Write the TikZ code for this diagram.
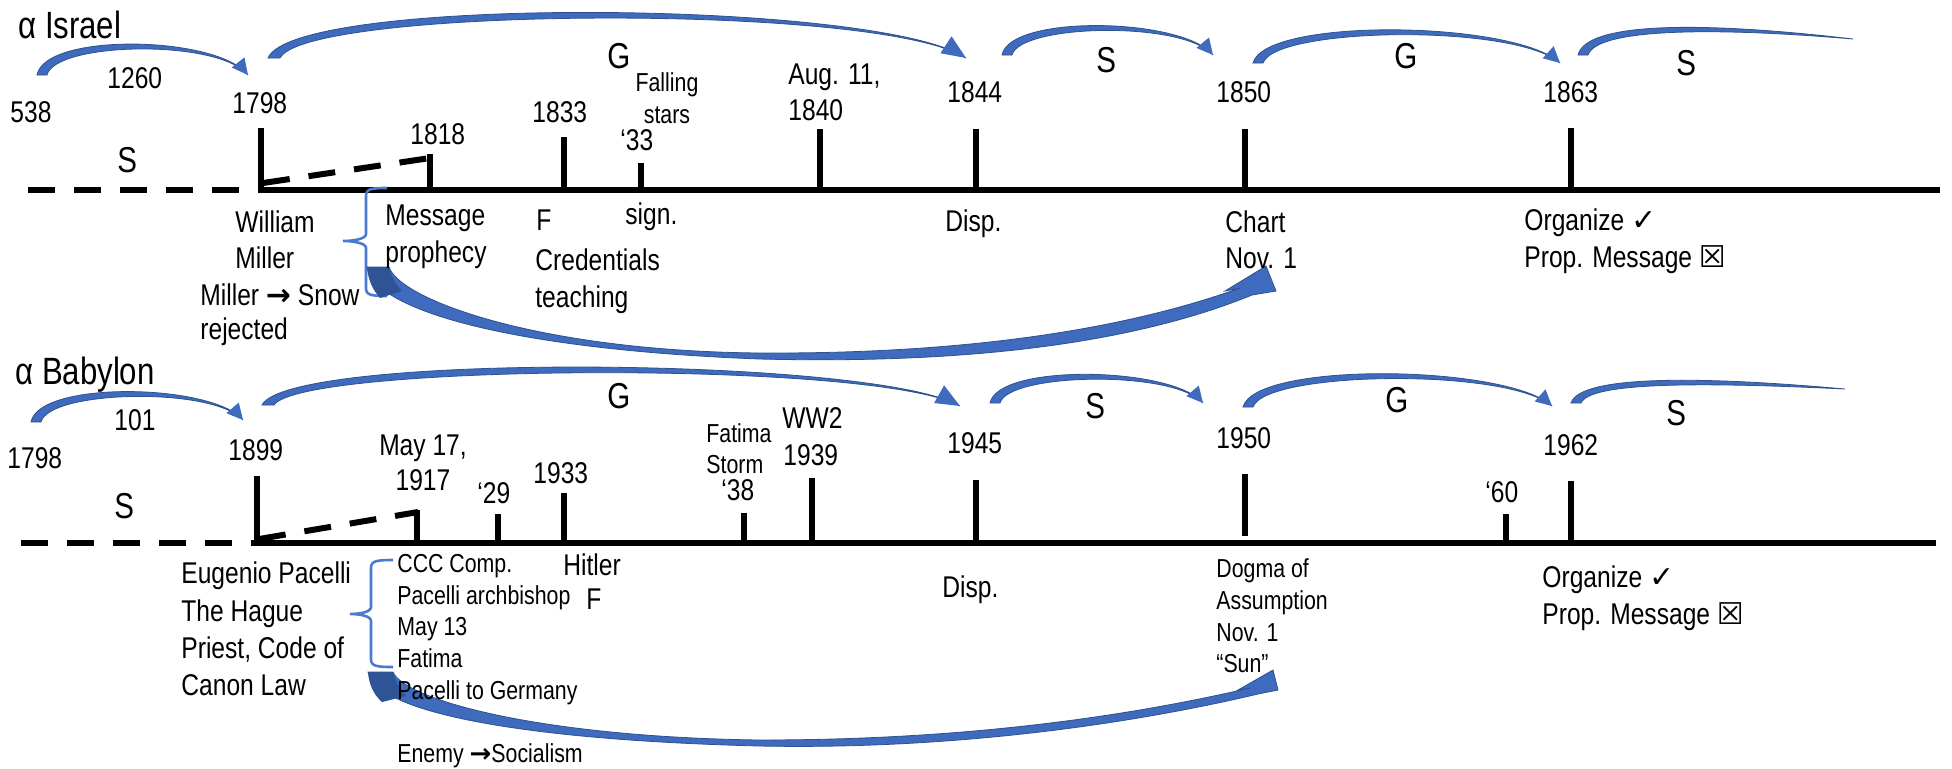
\documentclass[tikz,border=0pt]{standalone}
\usepackage{fontspec}
\setmainfont{Liberation Sans}[FakeStretch=0.82]
\newfontfamily\symfont{DejaVu Sans}
\usetikzlibrary{arrows.meta,calc}
\definecolor{arcblue}{HTML}{3F6BBE}
\definecolor{arcedge}{HTML}{2F528F}
\definecolor{bracecol}{HTML}{4A7BD0}
\definecolor{darkface}{HTML}{2E5496}
\tikzset{
 lbl/.style={anchor=base west, inner sep=0pt, font=\fontsize{15}{18}\selectfont},
 sml/.style={anchor=base west, inner sep=0pt, font=\fontsize{13}{16}\selectfont},
 ttl/.style={anchor=base west, inner sep=0pt, font=\fontsize{19}{22}\selectfont},
 big/.style={anchor=base west, inner sep=0pt, font=\fontsize{18}{21}\selectfont},
 axis/.style={line width=3pt},
 dashaxis/.style={line width=3pt, dash pattern=on 13.5pt off 9.5pt},
 tick/.style={line width=3pt},
 bracestyle/.style={draw=bracecol, line width=1.3pt},
 arcbody/.style={fill=arcblue, draw=arcedge, line width=0.4pt},
 arctip/.style={arcblue, line width=0.5pt, -{Triangle[length=8pt,width=8pt]}},
 arctipbig/.style={arcblue, line width=0.5pt, -{Triangle[length=12pt,width=10pt]}},
}
% #1 x0, #2 y0, #3 x1c, #4 yc, #5 x2c, #6 x3, #7 y3, #8 w, #9 tip (0 none,1 small,2 big)
\newcommand{\bluearc}[9]{%
 \filldraw[arcbody] ({#1-#8/2},#2) .. controls ({#3-#8/2},{#4-#8/2}) and (#5,{#4-1.5}) .. (#6,#7)
   .. controls (#5,{#4+1.5}) and ({#3+#8/2},{#4+#8/2}) .. ({#1+#8/2},#2) -- cycle;
 \ifnum#9=1 \draw[arctip] ({#6-0.12*(#6-#5)},{#7-0.12*(#7-#4)}) -- (#6,#7);\fi
 \ifnum#9=2 \draw[arctipbig] ({#6-0.12*(#6-#5)},{#7-0.12*(#7-#4)}) -- (#6,#7);\fi
}
% #1 x, #2 top, #3 mid, #4 bottom, #5 tip x, #6 hook x
\newcommand{\bluebrace}[6]{%
 \draw[bracestyle] (#6,#2) .. controls ({#1+5},#2) and (#1,{#2+1}) .. (#1,{#2+8}) -- (#1,{#3-7})
  .. controls (#1,{#3-2}) and ({#5+10},#3) .. (#5,#3)
  .. controls ({#5+10},#3) and (#1,{#3+2}) .. (#1,{#3+7}) -- (#1,{#4-8})
  .. controls (#1,{#4-1}) and ({#1+5},#4) .. (#6,#4);
}
\begin{document}
\begin{tikzpicture}[x=0.5pt,y=-0.5pt]
\useasboundingbox[fill=white] (0,0) rectangle (1952,768);

% ===== Upper timeline =====
\coordinate (uA0) at (28,190);
\coordinate (uA1) at (258,190);
\coordinate (uA2) at (1940,190);
\draw[dashaxis] (uA0) -- (uA1);
\draw[axis] (uA1) -- (uA2);
\coordinate (uD0) at (263,183);
\coordinate (uD1) at (430,158);
\draw[dashaxis] (uD0) -- (uD1);
\foreach \x/\t in {261/128, 430/154, 564/137, 641/163, 820/129, 976/129, 1245/129, 1571/128}
  \draw[tick] (\x,\t) -- (\x,192);

\bluebrace{366}{188}{241}{296}{343}{387}

% arcs upper
\bluearc{42}{75}{50}{37}{218}{248}{75}{10}{1}
\bluearc{274}{58}{300}{1}{880}{966}{58}{12}{2}
\bluearc{1007}{55}{1015}{19}{1183}{1213}{55}{10}{1}
\bluearc{1258}{63}{1270}{22}{1515}{1560}{63}{10}{1}
\filldraw[arcbody] (1578,55) .. controls (1586,22) and (1700,21) .. (1853,39)
  .. controls (1700,26) and (1596,30) .. (1588,55) -- cycle;

% big arrow upper
\filldraw[arcbody] (367,267) .. controls (375,312) and (520,350) .. (760,359)
  .. controls (960,364) and (1130,345) .. (1252,295) -- (1276,291) -- (1266,266) -- (1225,291) -- (1240,288)
  .. controls (1120,331) and (960,354) .. (760,353) .. controls (540,351) and (400,300) .. (389,267) -- cycle;
\fill[darkface] (367,267) -- (389,267) .. controls (391,276) and (395,283) .. (402,291) -- (380,298)
  .. controls (372,289) and (368,279) .. (367,267) -- cycle;

% texts upper
\node[ttl] (tIsrael) at (18,38) {α Israel};
\node[lbl] (u538) at (10,122) {538};
\node[lbl] (u1260) at (107,88) {1260};
\node[lbl] (u1798) at (232,113) {1798};
\node[big] (uS1) at (117,172) {S};
\node[lbl] (u1818) at (410,144) {1818};
\node[lbl] (u1833) at (532,122) {1833};
\node[big] (uG1) at (607,68) {G};
\node[sml, anchor=base] (uFall) at (667,91) {Falling};
\node[sml, anchor=base] (uStars) at (667,123) {stars};
\node[lbl] (u33) at (620,150) {‘33};
\node[lbl] (uAug) at (788,84) {Aug. 11,};
\node[lbl] (u1840) at (788,120) {1840};
\node[lbl] (u1844) at (947,102) {1844};
\node[big] (uS2) at (1096,72) {S};
\node[lbl] (u1850) at (1216,102) {1850};
\node[big] (uG2) at (1394,68) {G};
\node[lbl] (u1863) at (1543,102) {1863};
\node[big] (uS3) at (1676,75) {S};

\node[lbl] (uWilliam) at (235,232) {William};
\node[lbl] (uMiller) at (235,268) {Miller};
\node[lbl] (uSnow) at (200,305) {Miller {\symfont\bfseries →} Snow};
\node[lbl] (uRej) at (200,339) {rejected};
\node[lbl] (uMsg) at (385,225) {Message};
\node[lbl] (uProph) at (385,262) {prophecy};
\node[lbl] (uF) at (536,230) {F};
\node[lbl] (uCred) at (535,270) {Credentials};
\node[lbl] (uTeach) at (535,307) {teaching};
\node[lbl] (uSign) at (625,224) {sign.};
\node[lbl] (uDisp) at (945,231) {Disp.};
\node[lbl] (uChart) at (1225,232) {Chart};
\node[lbl] (uNov) at (1225,268) {Nov. 1};
\node[lbl] (uOrg) at (1524,230) {Organize {\symfont ✓}};
\node[lbl] (uProp) at (1524,267) {Prop. Message {\symfont\bfseries ☒}};

% ===== Lower timeline =====
\coordinate (lA0) at (21,543);
\coordinate (lA1) at (254,543);
\coordinate (lA2) at (1936,543);
\draw[dashaxis] (lA0) -- (lA1);
\draw[axis] (lA1) -- (lA2);
\coordinate (lD0) at (259,539);
\coordinate (lD1) at (418,512);
\draw[dashaxis] (lD0) -- (lD1);
\foreach \x/\t in {257/476, 417/510, 498/514, 564/493, 744/513, 812/478, 976/480, 1506/514, 1571/481}
  \draw[tick] (\x,\t) -- (\x,545);
\draw[tick] (1245,474) -- (1245,536);

\bluebrace{371}{560}{614}{667}{350}{393}

% arcs lower
\bluearc{36}{422}{44}{385}{213}{243}{420}{10}{1}
\bluearc{268}{405}{295}{358}{875}{960}{406}{12}{2}
\bluearc{995}{403}{1003}{368}{1173}{1203}{403}{10}{1}
\bluearc{1248}{407}{1260}{366}{1507}{1552}{406}{10}{1}
\filldraw[arcbody] (1571,403) .. controls (1580,375) and (1700,376) .. (1845,389)
  .. controls (1700,382) and (1590,382) .. (1581,403) -- cycle;

% big arrow lower
\filldraw[arcbody] (368,672) .. controls (376,712) and (520,740) .. (760,746)
  .. controls (960,750) and (1140,722) .. (1258,694) -- (1278,690) -- (1273,670) -- (1238,690) -- (1250,688)
  .. controls (1120,718) and (960,740) .. (760,740) .. controls (540,737) and (405,700) .. (393,672) -- cycle;
\fill[darkface] (368,672) -- (393,672) .. controls (395,681) and (399,688) .. (406,696) -- (382,702)
  .. controls (373,694) and (369,684) .. (368,672) -- cycle;

% texts lower
\node[ttl] (tBab) at (15,384) {α Babylon};
\node[lbl] (l101) at (114,430) {101};
\node[lbl] (l1798) at (7,468) {1798};
\node[lbl] (l1899) at (228,460) {1899};
\node[big] (lS1) at (114,518) {S};
\node[lbl, anchor=base] (lMay) at (423,455) {May 17,};
\node[lbl, anchor=base] (l1917) at (423,490) {1917};
\node[lbl] (l29) at (477,503) {‘29};
\node[lbl] (l1933) at (533,483) {1933};
\node[big] (lG1) at (607,408) {G};
\node[sml] (lFat) at (706,442) {Fatima};
\node[sml] (lStorm) at (706,473) {Storm};
\node[lbl] (l38) at (721,500) {‘38};
\node[lbl] (lWW2) at (782,428) {WW2};
\node[lbl] (l1939) at (783,465) {1939};
\node[lbl] (l1945) at (947,453) {1945};
\node[big] (lS2) at (1085,418) {S};
\node[lbl] (l1950) at (1216,448) {1950};
\node[big] (lG2) at (1385,412) {G};
\node[lbl] (l60) at (1485,502) {‘60};
\node[lbl] (l1962) at (1543,455) {1962};
\node[big] (lS3) at (1666,425) {S};

\node[lbl] (lEug) at (181,583) {Eugenio Pacelli};
\node[lbl] (lHague) at (181,621) {The Hague};
\node[lbl] (lPriest) at (181,658) {Priest, Code of};
\node[lbl] (lCanon) at (181,695) {Canon Law};
\node[sml] (lCCC) at (397,572) {CCC Comp.};
\node[sml] (lArch) at (397,604) {Pacelli archbishop};
\node[sml] (lMay13) at (397,635) {May 13};
\node[sml] (lFatima) at (397,667) {Fatima};
\node[sml] (lGerm) at (397,699) {Pacelli to Germany};
\node[lbl] (lHitler) at (563,575) {Hitler};
\node[lbl] (lF) at (586,609) {F};
\node[lbl] (lDisp) at (942,597) {Disp.};
\node[sml] (lDogma) at (1216,577) {Dogma of};
\node[sml] (lAssum) at (1216,609) {Assumption};
\node[sml] (lNov) at (1216,641) {Nov. 1};
\node[sml] (lSun) at (1216,672) {“Sun”};
\node[lbl] (lOrg) at (1542,587) {Organize {\symfont ✓}};
\node[lbl] (lProp) at (1542,624) {Prop. Message {\symfont\bfseries ☒}};
\node[sml] (lEnemy) at (397,762) {Enemy {\symfont\bfseries →}Socialism};
\end{tikzpicture}
\end{document}
